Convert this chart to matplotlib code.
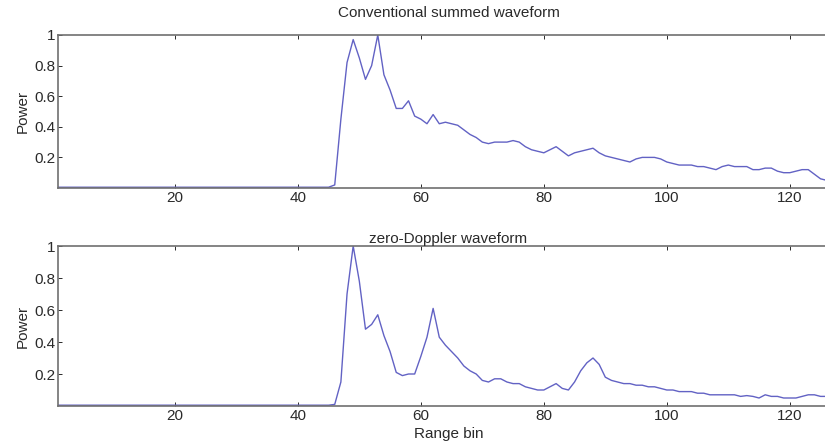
import matplotlib
matplotlib.use("Agg")
import matplotlib.pyplot as plt
import numpy as np

plt.rcParams['font.family'] = ['Liberation Sans', 'DejaVu Sans']

range_bins = list(range(1, 129))

baseline = [0.005] * 45
conventional_tail = [
    0.02, 0.45, 0.82, 0.97, 0.85, 0.71, 0.80, 1.00, 0.74, 0.64,   # 46-55
    0.52, 0.52, 0.57, 0.47, 0.45, 0.42, 0.48, 0.42, 0.43, 0.42,   # 56-65
    0.41, 0.38, 0.35, 0.33, 0.30, 0.29, 0.30, 0.30, 0.30, 0.31,   # 66-75
    0.30, 0.27, 0.25, 0.24, 0.23, 0.25, 0.27, 0.24, 0.21, 0.23,   # 76-85
    0.24, 0.25, 0.26, 0.23, 0.21, 0.20, 0.19, 0.18, 0.17, 0.19,   # 86-95
    0.20, 0.20, 0.20, 0.19, 0.17, 0.16, 0.15, 0.15, 0.15, 0.14,   # 96-105
    0.14, 0.13, 0.12, 0.14, 0.15, 0.14, 0.14, 0.14, 0.12, 0.12,   # 106-115
    0.13, 0.13, 0.11, 0.10, 0.10, 0.11, 0.12, 0.12, 0.09, 0.06,   # 116-125
    0.05, 0.04, 0.03,                                             # 126-128
]
zero_doppler_tail = [
    0.01, 0.15, 0.70, 1.00, 0.78, 0.48, 0.51, 0.57, 0.44, 0.34,   # 46-55
    0.21, 0.19, 0.20, 0.20, 0.31, 0.43, 0.61, 0.43, 0.38, 0.34,   # 56-65
    0.30, 0.25, 0.22, 0.20, 0.16, 0.15, 0.17, 0.17, 0.15, 0.14,   # 66-75
    0.14, 0.12, 0.11, 0.10, 0.10, 0.12, 0.14, 0.11, 0.10, 0.15,   # 76-85
    0.22, 0.27, 0.30, 0.26, 0.18, 0.16, 0.15, 0.14, 0.14, 0.13,   # 86-95
    0.13, 0.12, 0.12, 0.11, 0.10, 0.10, 0.09, 0.09, 0.09, 0.08,   # 96-105
    0.08, 0.07, 0.07, 0.07, 0.07, 0.07, 0.06, 0.065, 0.06, 0.05,  # 106-115
    0.07, 0.06, 0.06, 0.05, 0.05, 0.05, 0.06, 0.07, 0.07, 0.06,   # 116-125
    0.06, 0.06, 0.05,                                             # 126-128
]
conventional = baseline + conventional_tail
zero_doppler = baseline + zero_doppler_tail

titles = ["Conventional summed waveform", "zero-Doppler waveform"]
x_ticks = [20, 40, 60, 80, 100, 120]
y_ticks = [0.2, 0.4, 0.6, 0.8, 1.0]
y_ticklabels = ["0.2", "0.4", "0.6", "0.8", "1"]

fig = plt.figure(figsize=(8.25, 4.44), dpi=100)
left = 58 / 825
width = 781 / 825
ax1 = fig.add_axes([left, 1 - 188 / 444, width, 153 / 444])
ax2 = fig.add_axes([left, 1 - 406 / 444, width, 160 / 444])

line_color = "#6262c4"
spine_color = "#707070"
text_color = "#2a2a2a"
fs = 11
for ax, data, title, ty in [(ax1, conventional, titles[0], 1.10),
                            (ax2, zero_doppler, titles[1], 1.0)]:
    ax.plot(range_bins, data, color=line_color, linewidth=1.0)
    ax.set_xlim(1, 128)
    ax.set_ylim(0, 1)
    ax.set_xticks(x_ticks)
    ax.set_yticks(y_ticks)
    ax.set_yticklabels(y_ticklabels)
    ax.tick_params(direction="in", length=3, width=0.7, labelsize=fs,
                   top=True, right=True, colors=text_color, pad=2)
    for s in ax.spines.values():
        s.set_color(spine_color)
        s.set_linewidth(1.2)
    ax.set_ylabel("Power", fontsize=fs, color=text_color, labelpad=3)
    ax.set_title(title, fontsize=fs, color=text_color, y=ty, pad=2)

ax2.set_xlabel("Range bin", fontsize=fs, color=text_color, labelpad=3)

fig.savefig("out.png", dpi=100)
